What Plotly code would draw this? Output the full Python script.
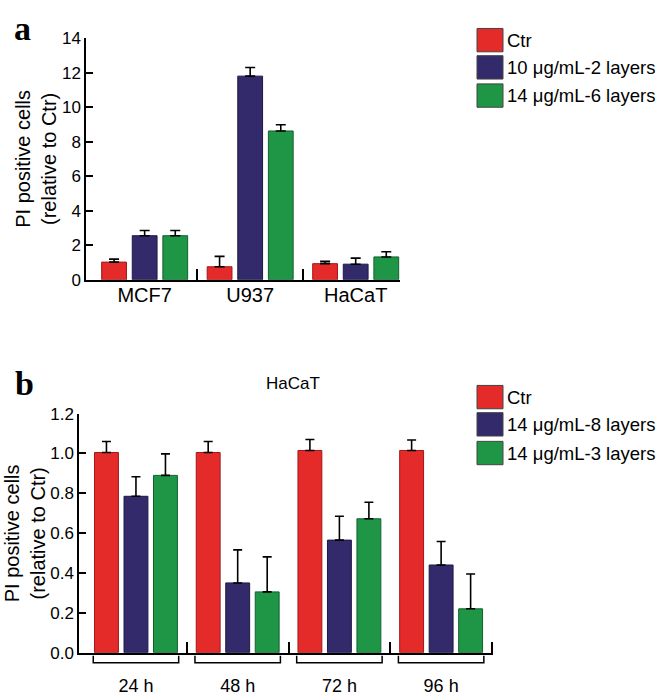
import plotly.graph_objects as go

W, H = 666, 696

# ---------------- data ----------------
cells_a = ["MCF7", "U937", "HaCaT"]
series_a = ["Ctr", "10 μg/mL-2 layers", "14 μg/mL-6 layers"]
ctr_a = [1.02, 0.75, 0.93]
ctr_a_err = [0.17, 0.60, 0.13]
s2_a = [2.55, 11.80, 0.90]
s2_a_err = [0.30, 0.50, 0.35]
s6_a = [2.55, 8.62, 1.32]
s6_a_err = [0.30, 0.36, 0.30]
yticks_a = [0, 2, 4, 6, 8, 10, 12, 14]

times_b = ["24 h", "48 h", "72 h", "96 h"]
series_b = ["Ctr", "14 μg/mL-8 layers", "14 μg/mL-3 layers"]
ctr_b = [1.005, 1.005, 1.015, 1.015]
ctr_b_err = [0.055, 0.055, 0.055, 0.053]
s8_b = [0.785, 0.35, 0.565, 0.44]
s8_b_err = [0.098, 0.166, 0.120, 0.118]
s3_b = [0.89, 0.305, 0.672, 0.22]
s3_b_err = [0.108, 0.176, 0.083, 0.175]
yticks_b = [0.0, 0.2, 0.4, 0.6, 0.8, 1.0, 1.2]
title_b = "HaCaT"
ytitle = "PI positive cells<br>(relative to Ctr)"

colors = ["#E52A2A", "#332A6C", "#1F9546"]
edges = ["#A01818", "#1E1845", "#126030"]

FONT = "Liberation Sans, Arial, sans-serif"


def px(x):
    return x / W


def py(y):
    return 1 - y / H


fig = go.Figure()

vals_a = [(ctr_a, ctr_a_err), (s2_a, s2_a_err), (s6_a, s6_a_err)]
for i, (v, e) in enumerate(vals_a):
    fig.add_trace(go.Bar(
        x=list(range(len(cells_a))), y=v, name=series_a[i],
        marker=dict(color=colors[i], line=dict(color=edges[i], width=1)),
        error_y=dict(type="data", array=e, arrayminus=[0] * len(e), symmetric=False,
                     color="black", thickness=1.6, width=5),
        xaxis="x", yaxis="y", showlegend=False))

vals_b = [(ctr_b, ctr_b_err), (s8_b, s8_b_err), (s3_b, s3_b_err)]
for i, (v, e) in enumerate(vals_b):
    fig.add_trace(go.Bar(
        x=list(range(len(times_b))), y=v, name=series_b[i],
        marker=dict(color=colors[i], line=dict(color=edges[i], width=1)),
        error_y=dict(type="data", array=e, arrayminus=[0] * len(e), symmetric=False,
                     color="black", thickness=1.6, width=4.5),
        xaxis="x2", yaxis="y2", showlegend=False))

axis_common = dict(showline=True, linecolor="black", linewidth=1.5, showgrid=False,
                   zeroline=False, fixedrange=True)

fig.update_layout(
    width=W, height=H, margin=dict(l=0, r=0, t=0, b=0),
    paper_bgcolor="white", plot_bgcolor="white",
    barmode="group", bargap=0.13, bargroupgap=0.19,
    font=dict(family=FONT, color="black", size=17),
    xaxis=dict(domain=[px(86), px(400)], anchor="y", range=[-0.556, 2.42],
               tickmode="array", tickvals=list(range(len(cells_a))), ticktext=cells_a,
               ticks="", tickfont=dict(size=20), ticklabelstandoff=-3,
               minor=dict(tickmode="array", tickvals=[0.5, 1.5], ticks="inside",
                          ticklen=11, tickwidth=1.5, tickcolor="black"),
               **axis_common),
    yaxis=dict(domain=[py(278.3), py(30)], anchor="x", range=[0, 14],
               tickmode="array", tickvals=yticks_a, ticks="inside", ticklen=7,
               tickwidth=1.5, tickcolor="black", tickfont=dict(size=17),
               **axis_common),
    xaxis2=dict(domain=[px(79), px(493)], anchor="y2", range=[-0.56, 3.51],
                tickmode="array", tickvals=list(range(len(times_b))), ticktext=times_b,
                ticks="", tickfont=dict(size=18), ticklabelstandoff=16,
                minor=dict(tickmode="array", tickvals=[0.5, 1.5, 2.5, 3.5], ticks="inside",
                           ticklen=11, tickwidth=1.5, tickcolor="black"),
                **axis_common),
    yaxis2=dict(domain=[py(661.7), py(416)], anchor="x2", range=[0, 1.2],
                tickmode="array", tickvals=yticks_b, tickformat=".1f", ticks="inside",
                ticklen=7, tickwidth=1.5, tickcolor="black", tickfont=dict(size=17),
                **axis_common),
)

shapes = []
annotations = []

# brackets under panel b groups
for k in range(len(times_b)):
    shapes.append(dict(type="path", xref="x2", yref="paper",
                       path=f"M {k-0.42},{py(665)} L {k-0.42},{py(672)} L {k+0.42},{py(672)} L {k+0.42},{py(665)}",
                       line=dict(color="black", width=1.5)))

# legends
def legend(labels, centers):
    for i, lab in enumerate(labels):
        c = centers[i]
        shapes.append(dict(type="rect", xref="paper", yref="paper",
                           x0=px(477), x1=px(503), y0=py(c + 12), y1=py(c - 12),
                           fillcolor=colors[i], line=dict(color="#444444", width=1)))
        annotations.append(dict(text=lab, xref="paper", yref="paper", x=px(505), y=py(c),
                                xanchor="left", yanchor="middle", showarrow=False,
                                font=dict(size=18.5)))

legend(series_a, [32, 60, 89])
legend(series_b, [399, 427, 456.5])

# y titles
annotations.append(dict(text=ytitle, xref="paper", yref="paper", x=px(36), y=py(154),
                        textangle=-90, showarrow=False, font=dict(size=20),
                        xanchor="center", yanchor="middle"))
annotations.append(dict(text=ytitle, xref="paper", yref="paper", x=px(25), y=py(539),
                        textangle=-90, showarrow=False, font=dict(size=20),
                        xanchor="center", yanchor="middle"))
# panel b title
annotations.append(dict(text=title_b, xref="paper", yref="paper", x=px(293), y=py(385),
                        showarrow=False, font=dict(size=17), xanchor="center", yanchor="middle"))
# panel letters
annotations.append(dict(text="<b>a</b>", xref="paper", yref="paper", x=px(13), y=1,
                        showarrow=False, xanchor="left", yanchor="top", borderpad=0,
                        font=dict(size=34, family="Liberation Serif, Times New Roman, serif")))
annotations.append(dict(text="<b>b</b>", xref="paper", yref="paper", x=px(13), y=py(385),
                        showarrow=False, xanchor="left", yanchor="middle",
                        font=dict(size=34, family="Liberation Serif, Times New Roman, serif")))

fig.update_layout(shapes=shapes, annotations=annotations)
fig.write_html("out.html", config={"displayModeBar": False},
               post_script="document.body.style.margin='0';document.body.style.overflow='hidden';")
